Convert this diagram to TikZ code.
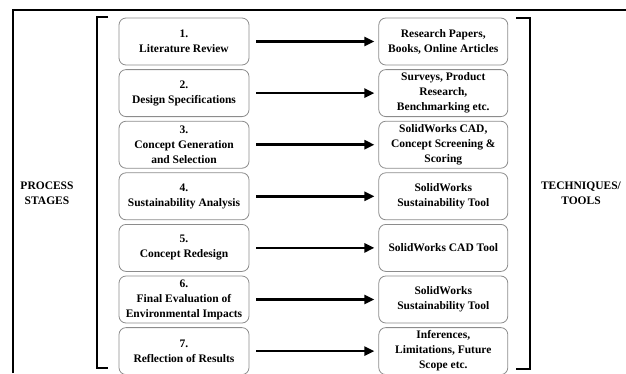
\documentclass[tikz,border=0pt]{standalone}
\usepackage{fontspec}
\setmainfont{Liberation Serif}
\usetikzlibrary{positioning,arrows.meta}
\tikzset{
	stage/.style={draw=black!45,line width=0.8pt,rounded corners=7pt,minimum width=130pt,minimum height=47pt,inner sep=1pt,align=center,font=\bfseries\fontsize{11.5}{15}\selectfont},
	tool/.style={stage,minimum width=129pt},
	arrowthick/.style={shorten <=7pt,shorten >=4pt,-{Triangle[length=10pt,width=9pt]},draw=black,line width=2.6pt},
	bracket/.style={draw=black,line width=1.6pt},
	side/.style={align=center,font=\bfseries\fontsize{11.5}{15}\selectfont}
}

\begin{document}
\begin{tikzpicture}[x=1pt,y=-1pt,node distance=3.8pt]
		\useasboundingbox (0,0) rectangle (626,373);
		\draw[line width=1.4pt] (13,373) -- (13,10) -- (626,10);
		% stages
		\node[stage] (s1) at (184,41.5) {1.\\Literature Review};
		\node[stage,below=of s1] (s2) {2.\\Design Specifications};
		\node[stage,below=of s2] (s3) {3.\\Concept Generation\\and Selection};
		\node[stage,below=of s3] (s4) {4.\\Sustainability Analysis};
		\node[stage,below=of s4] (s5) {5.\\Concept Redesign};
		\node[stage,below=of s5] (s6) {6.\\Final Evaluation of\\Environmental Impacts};
		\node[stage,below=of s6] (s7) {7.\\Reflection of Results};
		% tools
		\node[tool,right=129pt of s1] (t1) {Research Papers,\\Books, Online Articles};
		\node[tool,right=129pt of s2] (t2) {Surveys, Product\\Research,\\Benchmarking etc.};
		\node[tool,right=129pt of s3] (t3) {SolidWorks CAD,\\Concept Screening \&\\Scoring};
		\node[tool,right=129pt of s4] (t4) {SolidWorks\\Sustainability Tool};
		\node[tool,right=129pt of s5] (t5) {SolidWorks CAD Tool};
		\node[tool,right=129pt of s6] (t6) {SolidWorks\\Sustainability Tool};
		\node[tool,right=129pt of s7] (t7) {Inferences,\\Limitations, Future\\Scope etc.};
		\draw[arrowthick] (s1) -- (t1);
		\draw[arrowthick] (s2) -- (t2);
		\draw[arrowthick] (s3) -- (t3);
		\draw[arrowthick] (s4) -- (t4);
		\draw[arrowthick] (s5) -- (t5);
		\draw[arrowthick] (s6) -- (t6);
		\draw[arrowthick] (s7) -- (t7);
		% brackets and side labels
		\draw[bracket] (108,17) -- (97,17) -- (97,368) -- (108,368);
		\draw[bracket] (516,18) -- (530,18) -- (530,369) -- (516,369);
		\node[side] (PS) at (47,193.5) {PROCESS\\STAGES};
		\node[side] (TT) at (581,193.5) {TECHNIQUES/\\TOOLS};
\end{tikzpicture}
\end{document}
